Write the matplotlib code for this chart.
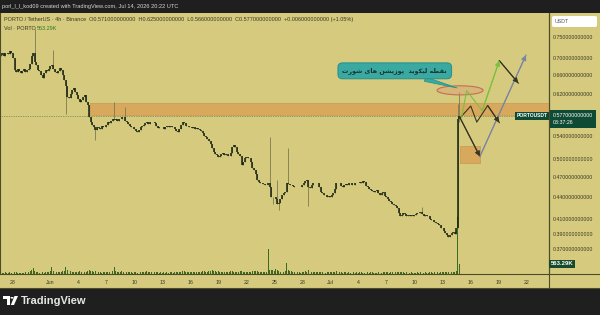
import matplotlib
matplotlib.use("Agg")
import matplotlib.pyplot as plt
import matplotlib.dates as mdates
from matplotlib.patches import Rectangle, Ellipse, FancyBboxPatch, Polygon, Circle
from matplotlib.lines import Line2D
from matplotlib.ticker import FixedLocator, NullLocator, FuncFormatter
from matplotlib.transforms import blended_transform_factory
import pandas as pd

plt.rcParams['font.family'] = ['Liberation Sans', 'DejaVu Sans']

# ---- data (4h candles, PORTO/USDT) ----
start = "2026-05-26 16:00"
closes = [
    0.706, 0.710,
    0.705, 0.710, 0.712, 0.708, 0.715, 0.712,   # May 27
    0.700, 0.672, 0.668, 0.675, 0.670, 0.665,   # May 28
    0.670, 0.673, 0.668, 0.672, 0.675, 0.685,
    0.705, 0.710, 0.690, 0.683, 0.672, 0.670,   # May 30
    0.660, 0.655, 0.665, 0.672, 0.670, 0.675,
    0.680, 0.683, 0.675, 0.668, 0.665, 0.670,   # Jun 1
    0.676, 0.672, 0.660, 0.650, 0.637, 0.615,
    0.612, 0.620, 0.628, 0.632, 0.625, 0.619,
    0.610, 0.604, 0.608, 0.615, 0.619, 0.605,   # Jun 4
    0.598, 0.574, 0.565, 0.560, 0.555, 0.551,
    0.556, 0.554, 0.552, 0.558, 0.555, 0.556,
    0.560, 0.566, 0.563, 0.567, 0.570, 0.569,   # Jun 7
    0.570, 0.568, 0.571, 0.570, 0.575, 0.574,
    0.568, 0.566, 0.562, 0.558, 0.555, 0.555,
    0.552, 0.549, 0.547, 0.550, 0.555, 0.557,   # Jun 10
    0.560, 0.563, 0.565, 0.562, 0.566, 0.565,
    0.566, 0.563, 0.557, 0.554, 0.555, 0.556,
    0.555, 0.553, 0.556, 0.558, 0.556, 0.557,   # Jun 13
    0.555, 0.556, 0.553, 0.548, 0.547, 0.552,
    0.560, 0.566, 0.563, 0.558, 0.557, 0.556,
    0.555, 0.554, 0.556, 0.553, 0.554, 0.553,   # Jun 16
    0.551, 0.549, 0.545, 0.540, 0.537, 0.535,
    0.530, 0.525, 0.518, 0.512, 0.508, 0.507,
    0.503, 0.505, 0.509, 0.510, 0.507, 0.508,   # Jun 19
    0.505, 0.504, 0.510, 0.520, 0.524, 0.520,
    0.512, 0.508, 0.505, 0.490, 0.495, 0.502,
    0.503, 0.501, 0.502, 0.495, 0.485, 0.482,   # Jun 22
    0.475, 0.466, 0.463, 0.461, 0.462, 0.460,
    0.459, 0.458, 0.461, 0.456, 0.441, 0.440,
    0.440, 0.438, 0.430, 0.432, 0.437, 0.444,   # Jun 25
    0.446, 0.448, 0.462, 0.460, 0.458, 0.459,
    0.457, 0.455, 0.456, 0.455, 0.456, 0.456,
    0.459, 0.462, 0.465, 0.466, 0.455, 0.454,   # Jun 28
    0.459, 0.461, 0.462, 0.462, 0.461, 0.455,
    0.448, 0.446, 0.444, 0.443, 0.441, 0.442,
    0.441, 0.444, 0.446, 0.452, 0.462, 0.462,   # Jul 1
    0.461, 0.457, 0.456, 0.458, 0.460, 0.459,
    0.461, 0.462, 0.459, 0.458, 0.461, 0.462,
    0.461, 0.463, 0.462, 0.464, 0.463, 0.457,   # Jul 4
    0.455, 0.453, 0.451, 0.449, 0.448, 0.450,
    0.451, 0.447, 0.444, 0.446, 0.448, 0.442,
    0.440, 0.438, 0.435, 0.433, 0.430, 0.429,   # Jul 7
    0.427, 0.425, 0.418, 0.413, 0.415, 0.417,
    0.416, 0.414, 0.415, 0.413, 0.415, 0.414,
    0.415, 0.416, 0.417, 0.418, 0.419, 0.416,   # Jul 10
    0.414, 0.415, 0.413, 0.414, 0.410, 0.408,
    0.408, 0.406, 0.404, 0.402, 0.401, 0.398,
    0.397, 0.393, 0.391, 0.388, 0.386, 0.388,   # Jul 13
    0.391, 0.392, 0.390, 0.398, 0.571, 0.577,
]
first_open = 0.705
wick_high = {"2026-05-30 08:00": 0.77, "2026-06-01 08:00": 0.718, "2026-06-07 20:00": 0.605,
             "2026-06-09 00:00": 0.594, "2026-06-24 12:00": 0.538, "2026-06-25 08:00": 0.466,
             "2026-06-26 12:00": 0.519, "2026-07-10 20:00": 0.426,
             "2026-07-14 16:00": 0.600, "2026-07-14 20:00": 0.625}
wick_low = {"2026-06-02 16:00": 0.580, "2026-06-05 20:00": 0.533, "2026-06-24 20:00": 0.430,
            "2026-06-25 12:00": 0.422, "2026-06-28 16:00": 0.428, "2026-07-14 20:00": 0.566}

volumes_k = [
    90, 80,
    70, 90, 60, 80, 100, 70,
    150, 120, 90, 80, 70, 60,
    80, 70, 90, 60, 100, 180,
    200, 340, 160, 120, 90, 80,
    110, 90, 80, 100, 120, 90,
    150, 390, 180, 140, 110, 120,
    100, 130, 150, 170, 400, 220,
    200, 160, 120, 110, 140, 100,
    130, 150, 110, 120, 90, 140,
    160, 210, 180, 150, 120, 170,
    110, 90, 100, 80, 120, 90,
    100, 120, 130, 110, 160, 400,
    180, 140, 120, 110, 150, 130,
    150, 120, 100, 90, 110, 80,
    90, 110, 80, 100, 120, 90,
    110, 130, 150, 120, 100, 140,
    120, 100, 110, 90, 80, 100,
    80, 90, 70, 100, 80, 90,
    100, 80, 90, 120, 110, 100,
    140, 180, 160, 130, 120, 110,
    100, 120, 90, 110, 130, 100,
    120, 140, 160, 150, 130, 110,
    170, 190, 210, 180, 150, 130,
    160, 140, 120, 100, 130, 110,
    100, 120, 150, 170, 140, 120,
    130, 110, 150, 190, 140, 120,
    100, 120, 110, 130, 160, 150,
    180, 150, 130, 110, 100, 120,
    110, 130, 1400, 250, 210, 230,
    190, 290, 200, 170, 140, 120,
    130, 160, 620, 210, 180, 150,
    120, 100, 110, 90, 100, 80,
    110, 130, 150, 120, 230, 140,
    120, 100, 90, 110, 100, 120,
    110, 90, 100, 80, 90, 100,
    90, 100, 110, 130, 180, 120,
    100, 90, 80, 100, 90, 80,
    90, 80, 100, 90, 80, 90,
    80, 90, 100, 80, 70, 90,
    90, 80, 100, 90, 80, 70,
    80, 90, 70, 80, 100, 90,
    90, 100, 80, 90, 110, 100,
    120, 110, 140, 130, 100, 90,
    80, 90, 70, 80, 90, 80,
    70, 80, 90, 80, 110, 90,
    80, 90, 70, 80, 100, 90,
    80, 90, 100, 90, 80, 100,
    90, 100, 110, 120, 100, 110,
    120, 100, 110, 160, 3200, 563.29,
]

price_ticks = [0.37, 0.39, 0.41, 0.44, 0.47, 0.50, 0.54, 0.62, 0.66, 0.70, 0.75]
date_ticks = ["2026-05-28", "2026-06-01", "2026-06-04", "2026-06-07", "2026-06-10", "2026-06-13",
              "2026-06-16", "2026-06-19", "2026-06-22", "2026-06-25", "2026-06-28", "2026-07-01",
              "2026-07-04", "2026-07-07", "2026-07-10", "2026-07-13", "2026-07-16", "2026-07-19",
              "2026-07-22"]
date_labels = ["28", "Jun", "4", "7", "10", "13", "16", "19", "22", "25", "28", "Jul",
               "4", "7", "10", "13", "16", "19", "22"]

# drawings on the chart
zone_top = [("2026-06-05 06:00", 0.579, 0.602)]
zone_small = [("2026-07-14 22:00", "2026-07-17 00:00", 0.493, 0.521)]
green_path = [("2026-07-15 02:00", 0.574), ("2026-07-15 15:00", 0.627),
              ("2026-07-17 07:00", 0.587), ("2026-07-19 03:00", 0.693)]
black_path1 = [("2026-07-14 22:00", 0.573), ("2026-07-16 01:30", 0.596), ("2026-07-16 17:00", 0.565),
               ("2026-07-17 21:00", 0.597), ("2026-07-19 03:00", 0.564)]
black_path2 = [("2026-07-19 03:00", 0.693), ("2026-07-21 04:00", 0.643)]
black_path3 = [("2026-07-14 22:00", 0.573), ("2026-07-17 01:00", 0.504)]
blue_path = [("2026-07-17 01:00", 0.504), ("2026-07-21 23:30", 0.706)]
ellipse_c = ("2026-07-14 22:00", 0.628)
callout_text = "نقطه لیکوید  پوزیشن های شورت"
callout_at = ("2026-07-07 22:00", 0.670)
callout_tip = ("2026-07-14 14:00", 0.633)

# ---- simple persian shaping (matplotlib has no bidi) ----
FA_FORMS = {
    'ن': (0xFEE5, 0xFEE6, 0xFEE7, 0xFEE8), 'ق': (0xFED5, 0xFED6, 0xFED7, 0xFED8),
    'ط': (0xFEC1, 0xFEC2, 0xFEC3, 0xFEC4), 'ه': (0xFEE9, 0xFEEA, 0xFEEB, 0xFEEC),
    'ل': (0xFEDD, 0xFEDE, 0xFEDF, 0xFEE0), 'ی': (0xFBFC, 0xFBFD, 0xFBFE, 0xFBFF),
    'ک': (0xFB8E, 0xFB8F, 0xFB90, 0xFB91), 'و': (0xFEED, 0xFEEE, None, None),
    'د': (0xFEA9, 0xFEAA, None, None), 'پ': (0xFB56, 0xFB57, 0xFB58, 0xFB59),
    'ز': (0xFEAF, 0xFEB0, None, None), 'ش': (0xFEB5, 0xFEB6, 0xFEB7, 0xFEB8),
    'ا': (0xFE8D, 0xFE8E, None, None), 'ر': (0xFEAD, 0xFEAE, None, None),
    'ت': (0xFE95, 0xFE96, 0xFE97, 0xFE98),
}

def shape_fa(text):
    out = []
    for i, ch in enumerate(text):
        if ch not in FA_FORMS:
            out.append(ch)
            continue
        iso, fin, ini, med = FA_FORMS[ch]
        prev = text[i - 1] if i > 0 else ''
        nxt = text[i + 1] if i + 1 < len(text) else ''
        jp = prev in FA_FORMS and FA_FORMS[prev][2] is not None
        jn = nxt in FA_FORMS and ini is not None
        if jp and jn:
            out.append(chr(med))
        elif jp:
            out.append(chr(fin))
        elif jn:
            out.append(chr(ini))
        else:
            out.append(chr(iso))
    return ''.join(reversed(out))

def t(s):
    return mdates.date2num(pd.Timestamp(s))

# ---- figure ----
W, H = 600, 315
BG = '#d5ca7e'
DARK = '#1f1f1f'
INK = '#3a3922'
LINE = '#4d4b2c'
GREEN_LBL = '#0f4a34'

fig = plt.figure(figsize=(6, 3.15), dpi=100, facecolor=DARK)

def fpx(x, y):
    return x / W, 1 - y / H

fig.patches.append(Rectangle((0, 1 - 288 / H), 1, 275 / H, transform=fig.transFigure,
                             fc=BG, ec='none', zorder=-5))

rect = [0, 1 - 274 / H, 549 / W, 261 / H]
axv = fig.add_axes(rect)
ax = fig.add_axes(rect, sharex=axv)
axv.set_zorder(1)
ax.set_zorder(2)
ax.patch.set_visible(False)
axv.axis('off')

times = pd.date_range(start, periods=len(closes), freq="4h")
x = mdates.date2num(times)
opens = [first_open] + closes[:-1]
highs, lows = [], []
for ts, o, c in zip(times, opens, closes):
    key = ts.strftime("%Y-%m-%d %H:%M")
    highs.append(wick_high.get(key, max(o, c)))
    lows.append(wick_low.get(key, min(o, c)))

# volume
axv.bar(x, [v * 1000 for v in volumes_k], width=0.1, color='#3c6a20', linewidth=0)
axv.set_ylim(0, 14.7e6)

# candles
ax.vlines(x, lows, highs, color='#7d7a4e', linewidth=0.6)
bot = [min(o, c) for o, c in zip(opens, closes)]
top = [max(o, c) for o, c in zip(opens, closes)]
ax.vlines(x, bot, top, color='#15220f', linewidth=1.1)

ax.set_yscale('log')
ax.set_ylim(0.341, 0.812)
xl = (t("2026-05-26 14:30"), t("2026-07-24 10:45"))
ax.set_xlim(*xl)

# zones
for s, lo, hi in zone_top:
    ax.add_patch(Rectangle((t(s), lo), xl[1] - t(s), hi - lo, fc='#d9a65a', ec='#c99a55',
                           lw=0.6, alpha=0.9, zorder=1))
for s, e, lo, hi in zone_small:
    ax.add_patch(Rectangle((t(s), lo), t(e) - t(s), hi - lo, fc='#d9a65a', ec='#c99a55',
                           lw=0.6, alpha=0.9, zorder=1))

# last price line
last = closes[-1]
ax.axhline(last, color='#4e6a3a', lw=0.5, ls=(0, (1, 1.5)), zorder=1)

# ellipse
ax.add_patch(Ellipse((t(ellipse_c[0]), ellipse_c[1]), 4.93, 0.019, fc=(0.85, 0.62, 0.45, 0.45),
                     ec='#c46f55', lw=0.8, zorder=3))

def draw_path(pts, color):
    xs = [t(p[0]) for p in pts]
    ys = [p[1] for p in pts]
    ax.plot(xs, ys, color=color, lw=0.8, zorder=4)
    ax.annotate("", xy=(xs[-1], ys[-1]), xytext=(xs[-2], ys[-2]),
                arrowprops=dict(arrowstyle="-|>,head_length=0.5,head_width=0.25", color=color,
                                lw=0.8, shrinkA=0, shrinkB=0, mutation_scale=6), zorder=5)

draw_path(black_path3, '#3a3523')
draw_path(blue_path, '#7b86a3')
draw_path(black_path1, '#3a3523')
draw_path(black_path2, '#3a3523')
draw_path(green_path, '#7cc040')

# callout
ax.annotate(shape_fa(callout_text), xy=(t(callout_tip[0]), callout_tip[1]),
            xytext=(t(callout_at[0]), callout_at[1]), ha='center', va='center',
            fontsize=4.6, fontweight='bold', color='#17322f', family='DejaVu Sans',
            bbox=dict(boxstyle='round,pad=0.7,rounding_size=0.7', fc='#3aa9a2', ec='#2a948d', lw=0.8),
            arrowprops=dict(arrowstyle='wedge,tail_width=0.7', fc='#3aa9a2', ec='#2a948d', lw=0.6,
                            shrinkA=0, shrinkB=0), zorder=6)

# axes styling
ax.spines['top'].set_visible(False)
for side in ['left', 'right', 'bottom']:
    ax.spines[side].set_color(LINE)
    ax.spines[side].set_linewidth(0.8)
ax.yaxis.tick_right()
ax.yaxis.set_major_locator(FixedLocator(price_ticks))
ax.yaxis.set_minor_locator(NullLocator())
ax.yaxis.set_major_formatter(FuncFormatter(lambda v, _: f"{v:.12f}"))
ax.tick_params(axis='y', length=0, pad=3, labelsize=3.8, labelcolor=INK)
ax.set_xticks([t(d) for d in date_ticks])
ax.set_xticklabels(date_labels)
ax.tick_params(axis='x', length=0, pad=4, labelsize=3.8, labelcolor=INK)

# price labels
blend = blended_transform_factory(ax.transAxes, ax.transData)
ax.text(0.997, last, "PORTOUSDT", transform=blend, ha='right', va='center', fontsize=3.6,
        fontweight='bold', color='white',
        bbox=dict(boxstyle='square,pad=0.35', fc=GREEN_LBL, ec='none'), zorder=7)
ax.annotate("0.577000000000\n03:37:26", xy=(1.0, last), xycoords=blend, xytext=(2.9, -2.4),
            textcoords='offset points', ha='left', va='center', fontsize=3.8, color='white',
            linespacing=1.5, annotation_clip=False,
            bbox=dict(boxstyle='square,pad=0.55', fc=GREEN_LBL, ec='none'), zorder=7)
vblend = blended_transform_factory(ax.transAxes, axv.transData)
ax.text(1.003, volumes_k[-1] * 1000, "563.29K", transform=vblend, ha='left', va='center',
        fontsize=4.3, fontweight='bold', color='white', clip_on=False,
        bbox=dict(boxstyle='square,pad=0.3', fc='#174a2b', ec='none'), zorder=7)

# frame lines outside the axes
fig.add_artist(Line2D([549 / W, 549 / W], [1 - 288 / H, 1 - 13 / H], color=LINE, lw=0.8))
fig.add_artist(Line2D([0, 1], [1 - 288 / H, 1 - 288 / H], color=LINE, lw=0.8))
fig.add_artist(Line2D([549 / W, 1], [1 - 274 / H, 1 - 274 / H], color=LINE, lw=0.8))

# USDT box
fig.patches.append(FancyBboxPatch(fpx(552, 27), 45 / W, 11 / H, boxstyle='round,pad=0,rounding_size=0.004',
                                  transform=fig.transFigure, fc='white', ec='none'))
fig.text(*fpx(555, 21.5), "USDT", fontsize=3.8, color='#555555', va='center')

# header texts
fig.text(*fpx(2, 6.5), "porl_l_l_kod09 created with TradingView.com, Jul 14, 2026 20:22 UTC",
         fontsize=4.1, color='#d8d8d8', va='center')
fig.text(*fpx(4, 19), "PORTO / TetherUS · 4h · Binance  O0.571000000000  H0.625000000000  "
         "L0.566000000000  C0.577000000000  +0.006000000000 (+1.05%)",
         fontsize=3.95, color=INK, va='center')
fig.text(*fpx(4, 28), "Vol · PORTO", fontsize=3.95, color=INK, va='center')
fig.text(*fpx(37, 28), "563.29K", fontsize=3.95, color='#2f7a22', va='center')

# TradingView logo + name
fig.patches.append(Polygon([fpx(3, 296), fpx(10, 296), fpx(10, 305), fpx(7, 305), fpx(7, 299), fpx(3, 299)],
                           closed=True, transform=fig.transFigure, fc='white', ec='none'))
fig.patches.append(Circle(fpx(12, 297.8), 1.6 / W, transform=fig.transFigure, fc='white', ec='none'))
fig.patches.append(Polygon([fpx(14.5, 296), fpx(18, 296), fpx(14, 305), fpx(10.8, 305)],
                           closed=True, transform=fig.transFigure, fc='white', ec='none'))
fig.text(*fpx(21, 300.5), "TradingView", fontsize=8, color='#e6e6e6', va='center', fontweight='bold')

fig.savefig("out.png", dpi=100, facecolor=DARK)
